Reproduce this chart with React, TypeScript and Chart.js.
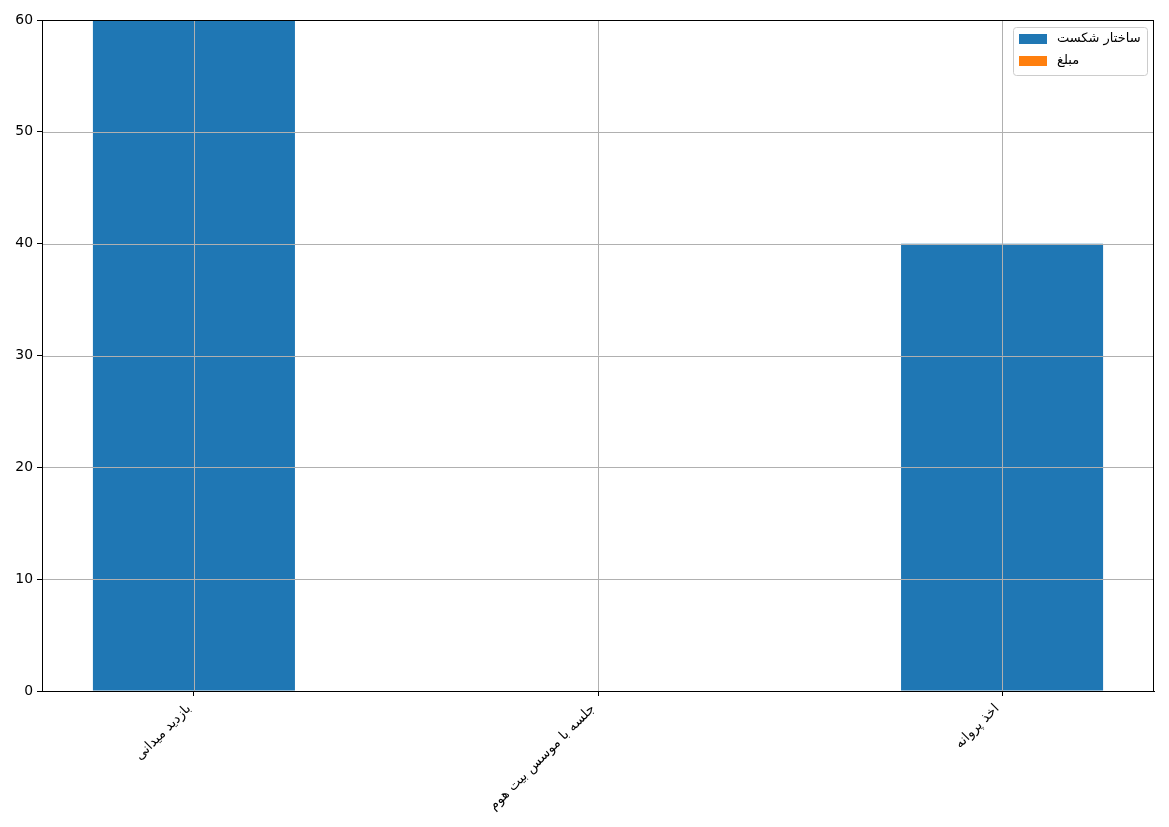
import React, { useEffect, useRef } from "react";
import { Chart, registerables } from "chart.js";

Chart.register(...registerables);

const categories = ["بازدید میدانی", "جلسه با موسس بیت هوم", "اخذ پروانه"];
const seriesNames = ["ساختار شکست", "مبلغ"];
const breakdownValues = [60, 0, 40];
const amountValues = [0, 0, 0];
const yTicks = [0, 10, 20, 30, 40, 50, 60];
const colors = ["#1f77b4", "#ff7f0e"];

const FONT = "DejaVu Sans, sans-serif";

const overlayPlugin = {
  id: "overlay",
  afterDatasetsDraw(chart: any) {
    const { ctx, chartArea, scales } = chart;
    ctx.save();
    ctx.strokeStyle = "#b0b0b0";
    ctx.lineWidth = 1;
    yTicks.forEach((v) => {
      const y = Math.round(scales.y.getPixelForValue(v)) + 0.5;
      ctx.beginPath();
      ctx.moveTo(chartArea.left, y);
      ctx.lineTo(chartArea.right, y);
      ctx.stroke();
    });
    categories.forEach((_, i) => {
      const x = Math.round(scales.x.getPixelForValue(i)) + 0.5;
      ctx.beginPath();
      ctx.moveTo(x, chartArea.top);
      ctx.lineTo(x, chartArea.bottom);
      ctx.stroke();
    });
    ctx.strokeStyle = "#000";
    ctx.lineWidth = 1;
    ctx.strokeRect(
      Math.round(chartArea.left) + 0.5,
      Math.round(chartArea.top) + 0.5,
      Math.round(chartArea.right - chartArea.left) - 1,
      Math.round(chartArea.bottom - chartArea.top)
    );
    ctx.restore();
  },
  afterDraw(chart: any) {
    const { ctx, chartArea } = chart;
    const ds = chart.data.datasets;
    ctx.save();
    ctx.font = `13px ${FONT}`;
    const boxW = 134;
    const boxH = 48;
    const bx = chartArea.right - 7 - boxW;
    const by = chartArea.top + 7;
    ctx.beginPath();
    (ctx as any).roundRect(bx + 0.5, by + 0.5, boxW, boxH, 3);
    ctx.fillStyle = "rgba(255,255,255,0.8)";
    ctx.fill();
    ctx.strokeStyle = "#cccccc";
    ctx.lineWidth = 1;
    ctx.stroke();
    ds.forEach((d: any, i: number) => {
      const cy = by + 12 + i * 22;
      ctx.fillStyle = d.backgroundColor;
      ctx.fillRect(bx + 6, cy - 5, 28, 10);
      ctx.fillStyle = "#000";
      ctx.textAlign = "left";
      ctx.textBaseline = "middle";
      ctx.fillText(d.label, bx + 44, cy);
    });
    ctx.restore();
  },
};

export default function App() {
  const ref = useRef<HTMLCanvasElement>(null);
  useEffect(() => {
    if (!ref.current) return;
    const chart = new Chart(ref.current, {
      type: "bar",
      data: {
        datasets: [
          {
            label: seriesNames[0],
            data: breakdownValues.map((v, i) => ({ x: i, y: v })),
            backgroundColor: colors[0],
          },
          {
            label: seriesNames[1],
            data: amountValues.map((v, i) => ({ x: i, y: v })),
            backgroundColor: colors[1],
          },
        ],
      },
      options: {
        responsive: false,
        animation: false,
        maintainAspectRatio: false,
        layout: { padding: { left: 0, right: 15, top: 20, bottom: 0 } },
        datasets: { bar: { grouped: false, categoryPercentage: 1, barPercentage: 0.5, borderWidth: 0 } },
        plugins: { legend: { display: false }, tooltip: { enabled: false } },
        scales: {
          x: {
            type: "linear",
            offset: false,
            min: -0.376,
            max: 2.376,
            afterBuildTicks: (s: any) => {
              s.ticks = categories.map((_, i) => ({ value: i }));
            },
            afterFit: (s: any) => {
              s.height = 136;
            },
            ticks: {
              callback: (v: any) => categories[v as number],
              minRotation: 45,
              maxRotation: 45,
              autoSkip: false,
              color: "#000",
              font: { family: FONT, size: 13.5 },
              padding: 5,
              labelOffset: -5,
            },
            grid: { offset: false, drawOnChartArea: false, drawTicks: true, tickLength: 5, color: "#000" },
            border: { color: "#000", width: 1 },
          },
          y: {
            min: 0,
            max: 60,
            afterBuildTicks: (s: any) => {
              s.ticks = yTicks.map((v) => ({ value: v }));
            },
            afterFit: (s: any) => {
              s.width = 42;
            },
            ticks: {
              color: "#000",
              font: { family: FONT, size: 13.9 },
              padding: 4,
            },
            grid: { drawOnChartArea: false, drawTicks: true, tickLength: 5, color: "#000" },
            border: { color: "#000", width: 1 },
          },
        },
      },
      plugins: [overlayPlugin],
    } as any);
    return () => chart.destroy();
  }, []);
  return (
    <div style={{ position: "fixed", left: 0, top: 0, width: 1169, height: 827, background: "#fff" }}>
      <canvas ref={ref} width={1169} height={827} style={{ width: 1169, height: 827 }} />
    </div>
  );
}
